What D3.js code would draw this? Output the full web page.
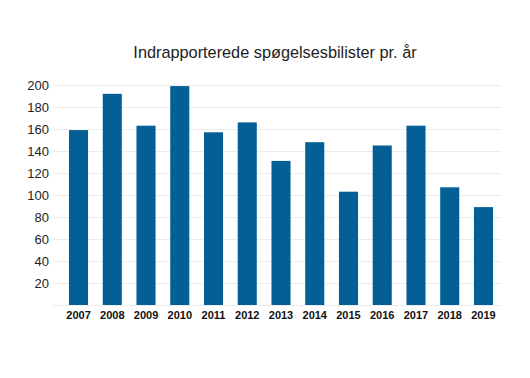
<!DOCTYPE html>
<html><head><meta charset="utf-8">
<script src="https://cdn.jsdelivr.net/npm/d3@7"></script>
<style>body{margin:0;background:#fff;} svg{display:block;}</style>
</head><body>
<script>
const years = ["2007","2008","2009","2010","2011","2012","2013","2014","2015","2016","2017","2018","2019"];
const counts = [159,192,163,199,157,166,131,148,103,145,163,107,89];
const yTicks = [20,40,60,80,100,120,140,160,180,200];
const title = "Indrapporterede spøgelsesbilister pr. år";

const W = 530, H = 378;
const svg = d3.select("body").append("svg").attr("width", W).attr("height", H);
const y = d3.scaleLinear().domain([0, 200]).range([305, 85]);
const x = d3.scaleBand().domain(years).range([69, 493]).paddingInner(0.435).paddingOuter(0);
const gx0 = 53, gx1 = 501;

svg.append("text").attr("x", 275).attr("y", 58).attr("text-anchor", "middle")
  .attr("font-family", "Liberation Sans, Arial, sans-serif").attr("font-size", 16.3)
  .attr("fill", "#222").text(title);

const g = svg.append("g");
g.selectAll("line.grid").data([0].concat(yTicks)).join("line")
  .attr("x1", gx0).attr("x2", gx1)
  .attr("y1", d => y(d) + 0.5).attr("y2", d => y(d) + 0.5)
  .attr("stroke", "#ececec").attr("stroke-width", 1);

const yAxis = svg.append("g").attr("transform", `translate(${gx0},0)`)
  .call(d3.axisLeft(y).tickValues(yTicks).tickSize(0).tickPadding(4));
yAxis.select(".domain").remove();
yAxis.selectAll("text").attr("font-family", "Liberation Sans, Arial, sans-serif")
  .attr("font-size", 13).attr("fill", "#222");

svg.append("g").selectAll("rect").data(years).join("rect")
  .attr("x", d => x(d)).attr("width", x.bandwidth())
  .attr("y", (d, i) => y(counts[i])).attr("height", (d, i) => y(0) - y(counts[i]))
  .attr("fill", "#035f96");

const xAxis = svg.append("g").attr("transform", `translate(0,${y(0)})`)
  .call(d3.axisBottom(x).tickSize(0).tickPadding(6));
xAxis.select(".domain").remove();
xAxis.selectAll("text").attr("font-family", "Liberation Sans, Arial, sans-serif")
  .attr("font-size", 11).attr("font-weight", "bold").attr("fill", "#111");
</script>
</body></html>
